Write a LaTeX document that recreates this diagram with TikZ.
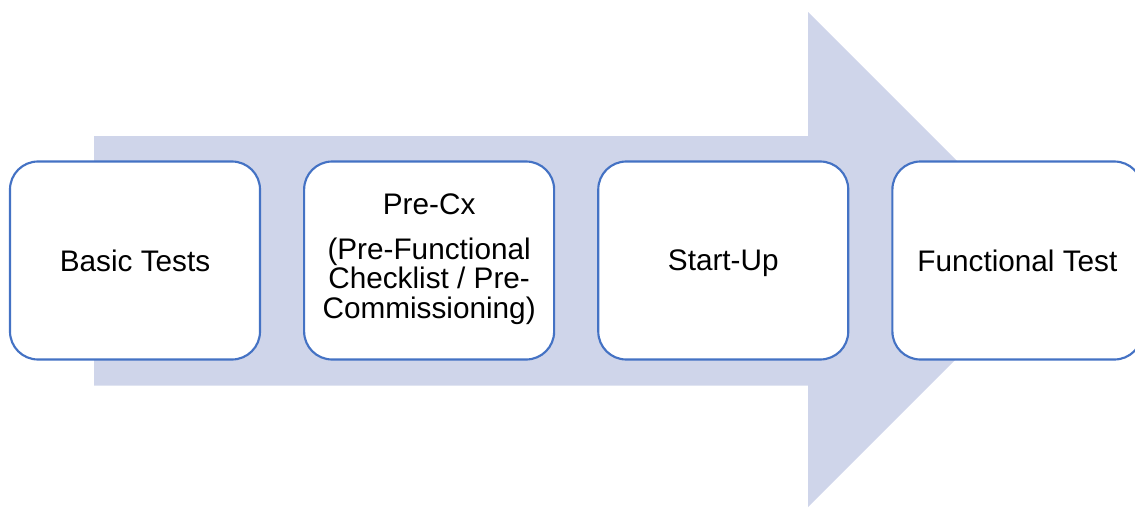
\documentclass[tikz,border=0pt]{standalone}
\usepackage{fontspec}
\setmainfont{Liberation Sans}
\usetikzlibrary{positioning}

\tikzset{every picture/.style={line width=0.75pt}}
\tikzset{stagebox/.style={draw={rgb, 255:red, 68; green, 114; blue, 196 }, line width=1.6pt, fill=white, rounded corners=21pt, minimum width=187.5pt, minimum height=148.5pt, inner sep=0pt, align=center, font=\fontsize{22.3}{22.3}\selectfont}}

\begin{document}
\begin{tikzpicture}[x=0.75pt,y=0.75pt,yscale=-1,xscale=1]
	\useasboundingbox (0,0) rectangle (1135,507);
	\clip (0,0) rectangle (1135,507);

	%Shape: Right Arrow [id:dp1]
	\fill [fill={rgb, 255:red, 207; green, 213; blue, 234 }] (94,136) -- (808,136) -- (808,12) -- (1055.5,259.5) -- (808,507) -- (808,385.5) -- (94,385.5) -- cycle ;

	% Text Node
	\node [stagebox] (basic) at (135,260.5) {Basic Tests};
	% Text Node
	\node [stagebox, text depth=6.5pt, right=31.5pt of basic] (precx) {Pre-Cx\\[11pt](Pre-Functional\\Checklist / Pre-\\Commissioning)};
	% Text Node
	\node [stagebox, text depth=0pt, right=31.5pt of precx] (startup) {Start-Up};
	% Text Node
	\node [stagebox, right=31.5pt of startup] (functional) {Functional Test};

\end{tikzpicture}
\end{document}
